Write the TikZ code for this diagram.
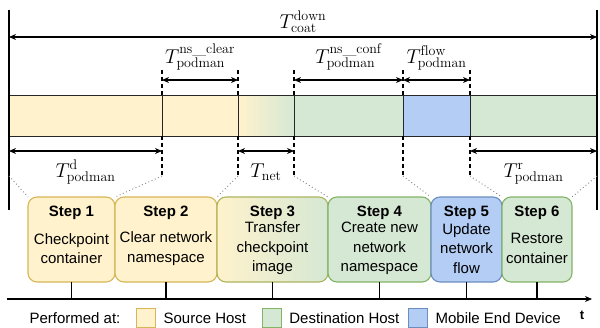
\RequirePackage{fix-cm}
\documentclass[tikz,border=0pt]{standalone}
\usepackage{fontspec}
\setsansfont{Liberation Sans}
\usetikzlibrary{arrows.meta,positioning}
\DeclareMathSizes{20}{20}{14}{10}
\definecolor{srcfill}{HTML}{FFF2CC}
\definecolor{srcline}{HTML}{D6B656}
\definecolor{dstfill}{HTML}{D5E8D4}
\definecolor{dstline}{HTML}{82B366}
\definecolor{mobfill}{HTML}{B3CDF5}
\definecolor{mobline}{HTML}{6C8EBF}
\definecolor{midline}{HTML}{ACB45E}
\begin{document}
\begin{tikzpicture}[x=1pt,y=-1pt,line width=1.1pt,
  font=\sffamily\fontsize{15}{19.5}\selectfont,
  dim/.style={{Stealth[length=7pt,width=6pt]}-{Stealth[length=7pt,width=6pt]}},
  guide/.style={dash pattern=on 4pt off 3pt},
  link/.style={gray,line width=0.9pt,dash pattern=on 0.9pt off 2.6pt},
  seg/.style={draw=black!85,line width=0.8pt},
  stepbox/.style={draw,rounded corners=9pt,minimum height=85pt,inner sep=0,outer sep=0},
  steptitle/.style={font=\sffamily\bfseries\fontsize{15}{19.5}\selectfont,inner sep=0},
  stepbody/.style={align=center,inner sep=0},
  tlabel/.style={font=\fontsize{20}{24}\selectfont,inner sep=0,anchor=base},
  legbox/.style={draw,minimum size=19pt,inner sep=0},
  legtext/.style={inner sep=0}]
\useasboundingbox (0,0) rectangle (600,327);
\foreach \n/\x in {0/9,1/162,2/238,3/294,4/403,5/470,6/597}{
  \coordinate (f\n) at (\x,37);
  \coordinate (u\n) at (\x,69);
  \coordinate (m\n) at (\x,80);
  \coordinate (p\n) at (\x,95);
  \coordinate (q\n) at (\x,136);
  \coordinate (n\n) at (\x,151);
  \coordinate (d\n) at (\x,176);
}
\draw[seg,fill=srcfill] (p0) rectangle (q1);
\draw[seg,fill=srcfill] (p1) rectangle (q2);
\draw[seg,left color=srcfill,right color=dstfill] (p2) rectangle (q3);
\draw[seg,fill=dstfill] (p3) rectangle (q4);
\draw[seg,fill=mobfill] (p4) rectangle (q5);
\draw[seg,fill=dstfill] (p5) rectangle (q6);
\draw (p0 |- 0,10) -- (p0 |- 0,210);
\draw (p6 |- 0,10) -- (p6 |- 0,210);
\foreach \n in {1,...,5}{
  \draw[guide] (p\n) -- (u\n);
  \draw[guide] (q\n) -- (d\n);
}
\draw[dim] (f0) -- node[tlabel,yshift=9pt] (lcoat) {$T^{\mathrm{down}}_{\mathrm{coat}}$} (f6);
\draw[dim] (m1) -- node[tlabel,yshift=17pt] (lclear) {$T^{\mathrm{ns\_clear}}_{\mathrm{podman}}$} (m2);
\draw[dim] (m3) -- node[tlabel,yshift=17pt] (lconf) {$T^{\mathrm{ns\_conf}}_{\mathrm{podman}}$} (m4);
\draw[dim] (m4) -- node[tlabel,yshift=17pt] (lflow) {$T^{\mathrm{flow}}_{\mathrm{podman}}$} (m5);
\draw[dim] (n0) -- node[tlabel,yshift=-26pt] (ld) {$T^{\mathrm{d}}_{\mathrm{podman}}$} (n1);
\draw[dim] (n2) -- node[tlabel,yshift=-26pt] (lnet) {$T_{\mathrm{net}}$} (n3);
\draw[dim] (n5) -- node[tlabel,yshift=-26pt] (lr) {$T^{\mathrm{r}}_{\mathrm{podman}}$} (n6);

\node[stepbox,fill=srcfill,draw=srcline,minimum width=87pt,anchor=north west] (s1) at (28,197) {};
\node[stepbox,fill=srcfill,draw=srcline,minimum width=102pt,right=0pt of s1] (s2) {};
\node[stepbox,left color=srcfill,right color=dstfill,draw=midline,minimum width=111pt,right=0pt of s2] (s3) {};
\node[stepbox,fill=dstfill,draw=dstline,minimum width=103pt,right=0pt of s3] (s4) {};
\node[stepbox,fill=mobfill,draw=mobline,minimum width=71pt,right=0pt of s4] (s5) {};
\node[stepbox,fill=dstfill,draw=dstline,minimum width=70pt,right=0pt of s5] (s6) {};
\foreach \i in {1,...,6}
  \node[steptitle,below=8pt of s\i.north] (h\i) {Step \i};
\node[stepbody] (c1) at ([yshift=-9pt]s1.center) {Checkpoint\\container};
\node[stepbody] (c2) at ([yshift=-9pt]s2.center) {Clear network\\namespace};
\node[stepbody] (c3) at ([yshift=-9pt]s3.center) {Transfer\\checkpoint\\image};
\node[stepbody] (c4) at ([yshift=-9pt]s4.center) {Create new\\network\\namespace};
\node[stepbody] (c5) at ([yshift=-9pt]s5.center) {Update\\network\\flow};
\node[stepbody] (c6) at ([yshift=-9pt]s6.center) {Restore\\container};

\draw[link] (d0) -- (s1.north west);
\draw[link] (d1) -- (s1.north east);
\draw[link] (d2) -- (s2.north east);
\draw[link] (d3) -- (s3.north east);
\draw[link] (d4) -- (s4.north east);
\draw[link] (d5) -- (s5.north east);
\draw[link] (d6) -- (s6.north east);

\coordinate (t0) at (7,299);
\coordinate (t1) at (592,299);
\draw[-{Stealth[length=7pt,width=6pt]}] (t0) -- (t1);
\foreach \i in {1,...,6}
  \draw (s\i.south) -- (s\i.south |- t0);
\node[font=\sffamily\bfseries\fontsize{13}{15}\selectfont,inner sep=0] (tl) at (582,315) {t};

\node[legtext,anchor=west] (lg) at (29,318) {Performed at:};
\node[legbox,fill=srcfill,draw=srcline,right=15pt of lg] (k1) {};
\node[legtext,right=7pt of k1] (g1) {Source Host};
\node[legbox,fill=dstfill,draw=dstline,right=15pt of g1] (k2) {};
\node[legtext,right=7pt of k2] (g2) {Destination Host};
\node[legbox,fill=mobfill,draw=mobline,right=8pt of g2] (k3) {};
\node[legtext,right=7pt of k3] (g3) {Mobile End Device};
\end{tikzpicture}
\end{document}
